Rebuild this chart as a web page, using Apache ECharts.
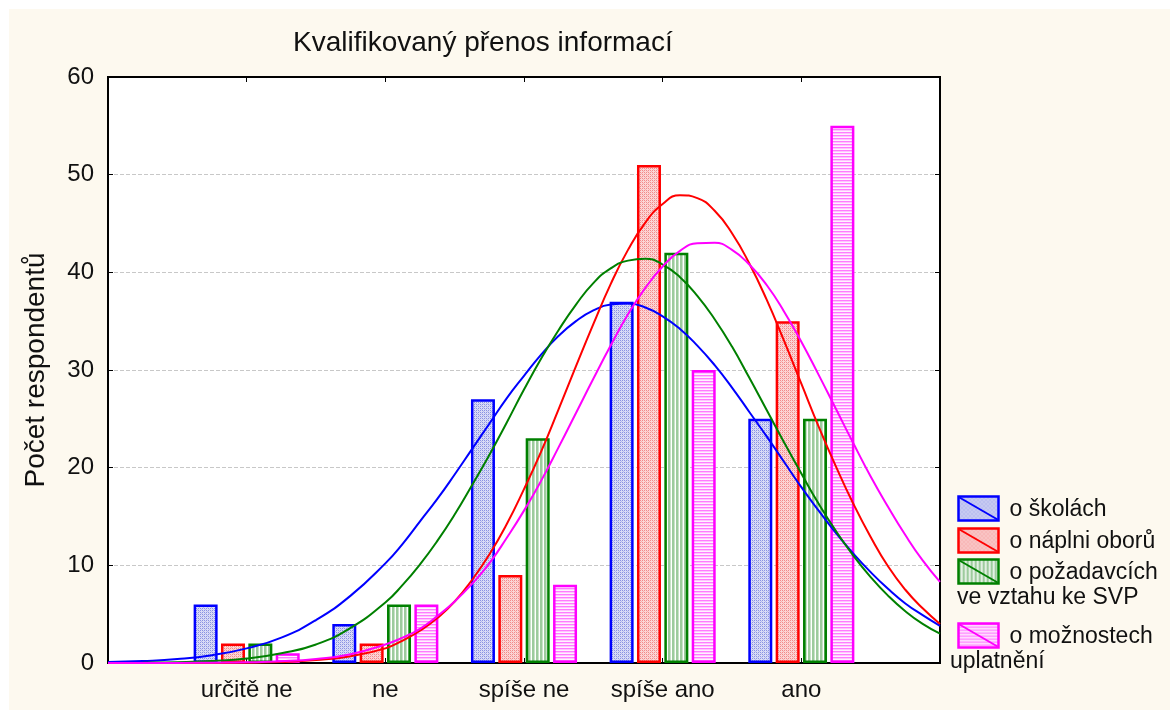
<!DOCTYPE html>
<html lang="cs">
<head>
<meta charset="UTF-8">
<title>Kvalifikovaný přenos informací</title>
<script src="https://cdn.jsdelivr.net/npm/echarts@6/dist/echarts.min.js"></script>
<style>
  html, body { margin: 0; padding: 0; background: #fff; }
  #main { width: 1170px; height: 710px; }
</style>
</head>
<body>
<div id="main"></div>
<script>
// kategorie odpovedi
var categories = ['určitě ne', 'ne', 'spíše ne', 'spíše ano', 'ano'];
var seriesNames = ['o školách', 'o náplni oborů', 'o požadavcích ve vztahu ke SVP', 'o možnostech uplatnění'];

// pocty respondentu
var skolach   = [6, 4, 27, 37, 25];
var naplni    = [2, 2, 9, 51, 35];
var pozadavky = [2, 6, 23, 42, 25];
var moznosti  = [1, 6, 8, 30, 55];

// prolozene krivky (x = poradi kategorie, 0 = "určitě ne")
var curveX = [-1, -0.75, -0.5, -0.25, 0, 0.25, 0.5, 0.75,
              1, 1.125, 1.25, 1.375, 1.5, 1.625, 1.75, 1.875,
              2, 2.125, 2.25, 2.375, 2.5, 2.625, 2.75, 2.875,
              3, 3.125, 3.25, 3.375, 3.5, 3.625, 3.75, 3.875,
              4, 4.125, 4.25, 4.375, 4.5, 4.625, 4.75, 4.875, 5];
var curveSkolach = [0.1, 0.2, 0.4, 0.8, 1.5, 2.6, 4.4, 6.9,
                    10.2, 12.2, 14.5, 16.8, 19.3, 21.9, 24.5, 27.1,
                    29.4, 31.6, 33.5, 35.0, 36.1, 36.7, 36.8, 36.4,
                    35.5, 34.2, 32.5, 30.5, 28.2, 25.7, 23.2, 20.6,
                    18.0, 15.6, 13.3, 11.2, 9.3, 7.6, 6.1, 4.9, 3.8];
var curveNaplni = [0, 0, 0, 0, 0.03, 0.1, 0.3, 0.7,
                   1.5, 2.3, 3.3, 4.6, 6.3, 8.5, 11.1, 14.2,
                   17.8, 21.7, 26.0, 30.4, 34.7, 38.8, 42.3, 45.1,
                   47.0, 47.9, 47.6, 46.3, 44.0, 40.9, 37.2, 33.0,
                   28.6, 24.2, 20.1, 16.3, 12.9, 9.9, 7.5, 5.6, 4.0];
var curvePozadavky = [0, 0.03, 0.08, 0.2, 0.45, 1.0, 1.9, 3.6,
                      6.2, 8.0, 10.1, 12.5, 15.2, 18.2, 21.3, 24.6,
                      28.0, 31.2, 34.1, 36.7, 38.9, 40.4, 41.2, 41.4,
                      40.8, 39.5, 37.6, 35.2, 32.4, 29.2, 25.9, 22.6,
                      19.4, 16.3, 13.5, 11.0, 8.8, 6.9, 5.3, 4.0, 3.0];
var curveMoznosti = [0, 0, 0, 0.03, 0.07, 0.18, 0.42, 0.9,
                     1.9, 2.6, 3.5, 4.8, 6.3, 8.1, 10.2, 12.8,
                     15.6, 18.7, 22.1, 25.6, 29.1, 32.5, 35.7, 38.4,
                     40.6, 42.2, 42.98, 43.02, 42.3, 40.8, 38.7, 36.0,
                     32.9, 29.5, 26.0, 22.5, 19.1, 16.0, 13.1, 10.5, 8.3];

var yTicks = [0, 10, 20, 30, 40, 50, 60];

var colors = ['#0000ff', '#ff0000', '#008000', '#ff00ff'];
var FONT = 'Arial, "Liberation Sans", sans-serif';

// srafovani sloupcu
function makePattern(kind) {
    var c = document.createElement('canvas');
    var ctx;
    if (kind === 'blue' || kind === 'red') {
        c.width = 4; c.height = 4;
        ctx = c.getContext('2d');
        ctx.fillStyle = kind === 'blue' ? '#dadcf6' : '#fcd6d6';
        ctx.fillRect(0, 0, 4, 4);
        ctx.fillStyle = kind === 'blue' ? '#8a92e2' : '#f28a8a';
        ctx.fillRect(0, 0, 1, 1); ctx.fillRect(2, 2, 1, 1);
        ctx.fillRect(2, 0, 1, 1); ctx.fillRect(0, 2, 1, 1);
        ctx.fillStyle = kind === 'blue' ? '#b4b9ee' : '#f8b0b0';
        ctx.fillRect(1, 1, 1, 1); ctx.fillRect(3, 3, 1, 1);
    } else if (kind === 'green') {
        c.width = 4; c.height = 4;
        ctx = c.getContext('2d');
        ctx.fillStyle = '#ffffff';
        ctx.fillRect(0, 0, 4, 4);
        ctx.fillStyle = '#9dcb9d';
        ctx.fillRect(0, 0, 2, 4);
        ctx.fillStyle = '#c8e2c8';
        ctx.fillRect(2, 0, 1, 4);
    } else {
        c.width = 4; c.height = 3;
        ctx = c.getContext('2d');
        ctx.fillStyle = '#fff2ff';
        ctx.fillRect(0, 0, 4, 3);
        ctx.fillStyle = '#ff7cff';
        ctx.fillRect(0, 0, 4, 1);
        ctx.fillStyle = '#ffc4ff';
        ctx.fillRect(0, 1, 4, 1);
    }
    return { image: c, repeat: 'repeat' };
}
var patterns = [makePattern('blue'), makePattern('red'), makePattern('green'), makePattern('magenta')];

// kategorie na ose: okraj -1 a 5 po stranach
var axisCats = [''].concat(categories).concat(['']);
function pad(arr) { return [null].concat(arr).concat([null]); }
function pairs(ys) { return curveX.map(function (x, i) { return [x, ys[i]]; }); }

var barData = [skolach, naplni, pozadavky, moznosti];
var curveData = [curveSkolach, curveNaplni, curvePozadavky, curveMoznosti];

var series = [];
barData.forEach(function (d, i) {
    series.push({
        name: seriesNames[i],
        type: 'bar',
        xAxisIndex: 0,
        yAxisIndex: 0,
        data: pad(d),
        barWidth: 24,
        barGap: '14%',
        z: 2,
        itemStyle: { color: patterns[i], borderColor: colors[i], borderWidth: 2.5 }
    });
});
curveData.forEach(function (d, i) {
    series.push({
        name: seriesNames[i],
        type: 'line',
        xAxisIndex: 1,
        yAxisIndex: 0,
        data: pairs(d),
        smooth: true,
        showSymbol: false,
        z: 3,
        lineStyle: { color: colors[i], width: 2 }
    });
});

// legenda vpravo dole
var legendTop = [495, 527, 558, 622];
var legendText = ['o školách', 'o náplni oborů', 'o požadavcích', 'o možnostech'];
var graphics = [
    { type: 'rect', left: 0, top: 0, silent: true, z: -10,
      shape: { width: 1170, height: 9 }, style: { fill: '#ffffff' } },
    { type: 'rect', left: 0, top: 0, silent: true, z: -10,
      shape: { width: 9, height: 710 }, style: { fill: '#ffffff' } }
];
legendTop.forEach(function (t, i) {
    graphics.push({
        type: 'group', left: 957, top: t,
        children: [
            { type: 'rect', shape: { x: 0, y: 0, width: 40, height: 24 },
              style: { fill: patterns[i], stroke: colors[i], lineWidth: 2.5 } },
            { type: 'line', shape: { x1: 1, y1: 1, x2: 39, y2: 23 },
              style: { stroke: colors[i], lineWidth: 2 } },
            { type: 'text', x: 51, y: 13,
              style: { text: legendText[i], font: '23px ' + FONT, fill: '#111',
                       verticalAlign: 'middle' } }
        ]
    });
});
graphics.push({ type: 'text', left: 957, top: 586,
    style: { text: 've vztahu ke SVP', font: '23px ' + FONT, fill: '#111' } });
graphics.push({ type: 'text', left: 950, top: 650,
    style: { text: 'uplatnění', font: '23px ' + FONT, fill: '#111' } });

var chart = echarts.init(document.getElementById('main'), null, { renderer: 'canvas' });
var option = {
    animation: false,
    backgroundColor: '#fdf9ef',
    textStyle: { fontFamily: FONT },
    title: {
        text: 'Kvalifikovaný přenos informací',
        left: 288, top: 24,
        textStyle: { fontSize: 28, fontWeight: 'normal', color: '#111', fontFamily: FONT }
    },
    grid: {
        left: 108, right: 230, top: 77, bottom: 47,
        show: true, backgroundColor: '#ffffff', borderColor: '#000', borderWidth: 2
    },
    xAxis: [
        {
            type: 'category', position: 'bottom', data: axisCats, boundaryGap: false,
            axisLine: { show: true, onZero: false, lineStyle: { color: '#000', width: 2 } },
            axisTick: { show: true, inside: true, length: 5, lineStyle: { color: '#000' } },
            axisLabel: { fontSize: 24, color: '#111', margin: 15, interval: 0, fontFamily: FONT },
            splitLine: { show: false }
        },
        {
            type: 'value', min: -1, max: 5, show: false
        },
        {
            type: 'category', position: 'top', data: axisCats, boundaryGap: false,
            axisLine: { show: true, onZero: false, lineStyle: { color: '#000', width: 2 } },
            axisTick: { show: true, inside: true, length: 5, lineStyle: { color: '#000' } },
            axisLabel: { show: false },
            splitLine: { show: false }
        }
    ],
    yAxis: [
        {
            type: 'value', min: yTicks[0], max: yTicks[yTicks.length - 1], interval: 10,
            name: 'Počet respondentů', nameLocation: 'middle', nameGap: 58, nameRotate: 90,
            nameTextStyle: { fontSize: 28, color: '#111', fontFamily: FONT },
            axisLine: { show: true, onZero: false, lineStyle: { color: '#000', width: 2 } },
            axisTick: { show: true, inside: true, length: 5, lineStyle: { color: '#000' } },
            axisLabel: { fontSize: 24, color: '#111', margin: 14, fontFamily: FONT },
            splitLine: { show: true, lineStyle: { color: '#c8c8c8', type: [4, 2], width: 1 } }
        },
        {
            type: 'value', position: 'right', min: 0, max: 60, interval: 10,
            axisLine: { show: true, onZero: false, lineStyle: { color: '#000', width: 2 } },
            axisTick: { show: true, inside: true, length: 5, lineStyle: { color: '#000' } },
            axisLabel: { show: false },
            splitLine: { show: false }
        }
    ],
    series: series,
    graphic: graphics
};
chart.setOption(option);
</script>
</body>
</html>
